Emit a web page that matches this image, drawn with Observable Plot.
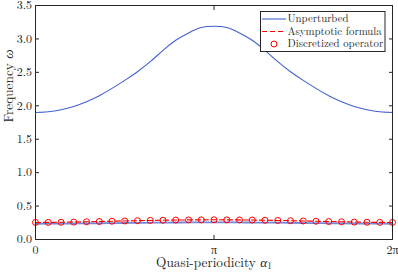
<!DOCTYPE html>
<html><head><meta charset="utf-8">
<script src="https://cdn.jsdelivr.net/npm/d3@7"></script>
<script src="https://cdn.jsdelivr.net/npm/@observablehq/plot@0.6"></script>
<style>
body{margin:0;background:#fff}
#wrap{position:relative;width:398px;height:273px;font-family:'Latin Modern Roman','Liberation Serif',serif}
#legend{position:absolute;left:0;top:0}
</style></head>
<body><div id="wrap"></div>
<script>
// Quasi-periodicity samples (0 .. 2π)
const alpha = [0,0.224,0.449,0.673,0.898,1.122,1.346,1.571,1.795,2.020,2.244,2.468,2.693,2.917,3.142,3.366,3.590,3.815,4.039,4.264,4.488,4.712,4.937,5.161,5.386,5.610,5.834,6.059,6.283];
// Unperturbed, upper band
const unpertUpper = [1.90,1.91,1.94,1.99,2.06,2.15,2.26,2.38,2.51,2.66,2.83,2.98,3.09,3.17,3.19,3.17,3.09,2.98,2.83,2.66,2.51,2.38,2.26,2.15,2.06,1.99,1.94,1.91,1.90];
// Unperturbed, lower band
const unpertLower = [0.235,0.236,0.237,0.239,0.241,0.243,0.245,0.247,0.249,0.251,0.253,0.254,0.255,0.256,0.256,0.256,0.255,0.254,0.253,0.251,0.249,0.247,0.245,0.243,0.241,0.239,0.237,0.236,0.235];
// Asymptotic formula
const asymptotic = [0.255,0.256,0.258,0.261,0.265,0.269,0.273,0.277,0.281,0.285,0.288,0.291,0.293,0.294,0.295,0.294,0.293,0.291,0.288,0.285,0.281,0.277,0.273,0.269,0.265,0.261,0.258,0.256,0.255];
// Discretized operator
const discretized = [0.255,0.256,0.258,0.261,0.265,0.269,0.273,0.277,0.281,0.285,0.288,0.291,0.293,0.294,0.295,0.294,0.293,0.291,0.288,0.285,0.281,0.277,0.273,0.269,0.265,0.261,0.258,0.256,0.255];

const xTicks = [0, Math.PI, 2*Math.PI];
const xTickLabels = ["0", "π", "2π"];
const yTicks = [0,0.5,1,1.5,2,2.5,3,3.5];
const seriesNames = ["Unperturbed", "Asymptotic formula", "Discretized operator"];
const xLabel = "Quasi-periodicity α1";
const yLabel = "Frequency ω";

const blue = "#4062d0", red = "#ff0000", axisColor = "#262626";
const FONT = "'Latin Modern Roman','Liberation Serif',serif";

const rows = (ys) => alpha.map((a, i) => ({a, v: ys[i]}));

const chart = Plot.plot({
  width: 398, height: 273,
  marginLeft: 35, marginRight: 6, marginTop: 5, marginBottom: 34,
  style: {fontFamily: FONT, fontSize: "12px", color: axisColor, background: "white"},
  x: {domain: [0, 2*Math.PI]},
  y: {domain: [0, 3.5]},
  marks: [
    Plot.line(rows(unpertUpper), {x: "a", y: "v", stroke: blue, strokeWidth: 1.1, curve: "natural"}),
    Plot.line(rows(unpertLower), {x: "a", y: "v", stroke: blue, strokeWidth: 1.8, strokeOpacity: 0.75, curve: "natural"}),
    Plot.line(rows(asymptotic), {x: "a", y: "v", stroke: red, strokeWidth: 1.1, strokeDasharray: "5,3", curve: "natural"}),
    Plot.dot(rows(discretized), {x: "a", y: "v", stroke: red, fill: "none", r: 3, strokeWidth: 1}),
    Plot.frame({stroke: axisColor}),
    Plot.axisX(xTicks, {tickSize: -4, tickPadding: 10, tickFormat: d => xTickLabels[xTicks.indexOf(d)], label: null, stroke: axisColor}),
    Plot.axisX(xTicks, {anchor: "top", tickSize: -4, text: null, label: null, stroke: axisColor}),
    Plot.axisY(yTicks, {tickSize: -4, tickPadding: 7.5, label: null, stroke: axisColor}),
    Plot.axisY(yTicks, {anchor: "right", tickSize: -4, text: null, label: null, stroke: axisColor}),
    Plot.text([xLabel], {frameAnchor: "bottom", dy: 27, fontSize: 13.3, fill: axisColor}),
    Plot.text([yLabel], {frameAnchor: "left", rotate: -90, dx: -27, fontSize: 13.3, fill: axisColor})
  ]
});

// style math parts of the labels
d3.select(chart).selectAll("text").each(function() {
  const t = this.textContent;
  if (t === xLabel) this.innerHTML = 'Quasi-periodicity <tspan font-style="italic">α</tspan><tspan font-size="70%" dy="0.3em">1</tspan>';
  if (t === yLabel) this.innerHTML = 'Frequency <tspan font-style="italic">ω</tspan>';
});

document.getElementById("wrap").appendChild(chart);

// Legend
const lg = d3.select("#wrap").append("svg").attr("id", "legend")
  .attr("width", 398).attr("height", 273).style("pointer-events", "none");
const bx = 260.5, by = 11.5, bw = 124.5, bh = 40;
lg.append("rect").attr("x", bx).attr("y", by).attr("width", bw).attr("height", bh)
  .attr("fill", "white").attr("stroke", axisColor).attr("stroke-width", 1);
const rowY = [19, 31.5, 44];
seriesNames.forEach((name, i) => {
  const y = rowY[i];
  if (i === 0) lg.append("line").attr("x1", 262).attr("x2", 286).attr("y1", y).attr("y2", y).attr("stroke", blue).attr("stroke-width", 1.1);
  if (i === 1) lg.append("line").attr("x1", 262).attr("x2", 286).attr("y1", y).attr("y2", y).attr("stroke", red).attr("stroke-width", 1.1).attr("stroke-dasharray", "5,3");
  if (i === 2) lg.append("circle").attr("cx", 274).attr("cy", y).attr("r", 3).attr("fill", "none").attr("stroke", red);
  lg.append("text").attr("x", 287.5).attr("y", y).attr("dy", "0.32em")
    .style("font-family", FONT).attr("font-size", 10.8).attr("fill", axisColor).text(name);
});
</script></body></html>
